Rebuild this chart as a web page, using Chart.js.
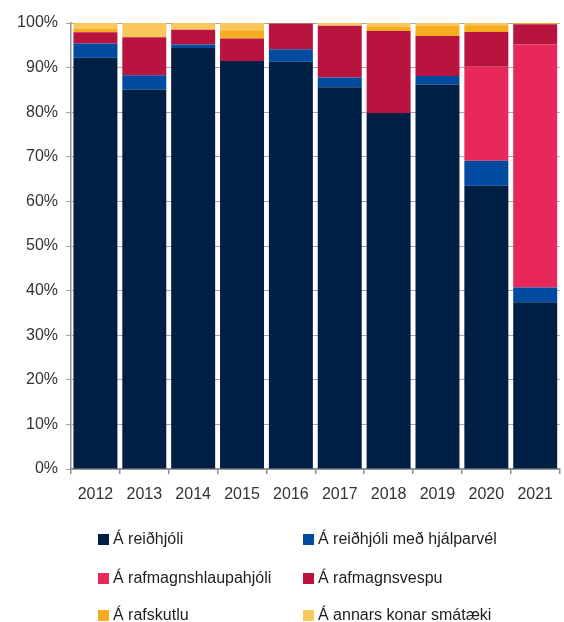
<!DOCTYPE html>
<html>
<head>
<meta charset="utf-8">
<script src="https://cdn.jsdelivr.net/npm/chart.js@4/dist/chart.umd.min.js"></script>
<style>
  body { margin: 0; background: #fff; }
  #wrap { position: relative; width: 564px; height: 622px; }
  #legend { position: absolute; left: 0; top: 0; width: 564px; height: 622px; pointer-events: none; }
  .item { position: absolute; display: flex; align-items: center; height: 20px;
          font: 16px "Liberation Sans", Arial, sans-serif; color: #1e1e1e; white-space: nowrap; }
  .item span.box { width: 11px; height: 11px; margin-right: 4px; display: inline-block; }
</style>
</head>
<body>
<div id="wrap">
  <canvas id="c" width="564" height="505"></canvas>
  <div id="legend"></div>
</div>
<script>
const years = ["2012", "2013", "2014", "2015", "2016", "2017", "2018", "2019", "2020", "2021"];

const labels = [
  "Á reiðhjóli",
  "Á reiðhjóli með hjálparvél",
  "Á rafmagnshlaupahjóli",
  "Á rafmagnsvespu",
  "Á rafskutlu",
  "Á annars konar smátæki"
];

const colors = ["#001f45", "#004a9f", "#e8285a", "#b91440", "#f5ac1e", "#f9c75c"];

// shares in percent, stacked bottom to top
const reidhjol   = [92.2, 85.1, 94.4, 91.5, 91.3, 85.6, 79.8, 86.2, 63.5, 37.4];
const hjalparvel = [3.2, 3.2, 0.8, 0, 2.8, 2.2, 0, 1.9, 5.6, 3.3];
const hlaupahjol = [0, 0, 0, 0, 0, 0, 0, 0, 21.1, 54.5];
const vespa      = [2.5, 8.5, 3.3, 5.0, 5.8, 11.6, 18.4, 9.0, 7.8, 4.5];
const rafskutla  = [0.8, 0, 0, 1.9, 0, 0, 0.9, 2.2, 1.5, 0.3];
const annad      = [1.3, 3.2, 1.5, 1.6, 0.1, 0.6, 0.9, 0.7, 0.5, 0];

const series = [reidhjol, hjalparvel, hlaupahjol, vespa, rafskutla, annad];

const axisGray = "#8f8f8f";
const font = { family: "'Liberation Sans', Arial, sans-serif", size: 16 };

const chart = new Chart(document.getElementById("c"), {
  type: "bar",
  data: {
    labels: years,
    datasets: series.map((d, i) => ({
      label: labels[i],
      data: d,
      backgroundColor: colors[i],
      borderWidth: 0,
      barPercentage: 0.9,
      categoryPercentage: 1.0,
    })),
  },
  options: {
    responsive: false,
    animation: false,
    layout: { padding: { top: 23, right: 0, left: 0, bottom: 0 } },
    plugins: { legend: { display: false }, tooltip: { enabled: false } },
    scales: {
      x: {
        stacked: true,
        afterFit: (s) => { s.height = 36; },
        grid: { drawOnChartArea: false, drawTicks: true, tickLength: 5, color: axisGray, lineWidth: 1.5 },
        border: { color: axisGray, width: 1.5 },
        ticks: { color: "#333", font, padding: 11 },
      },
      y: {
        stacked: true,
        min: 0,
        max: 100,
        afterFit: (s) => { s.width = 71; },
        grid: { color: "#a6a6a6", lineWidth: 1, tickLength: 5 },
        border: { color: axisGray, width: 1.5 },
        ticks: { stepSize: 10, color: "#333", font, padding: 8, callback: (v) => v + "%" },
      },
    },
  },
});

// two-column legend under the plot
const legendEl = document.getElementById("legend");
const colX = [98, 303];
const rowY = [539, 578, 615];
chart.data.datasets.forEach((ds, i) => {
  const item = document.createElement("div");
  item.className = "item";
  item.style.left = colX[i % 2] + "px";
  item.style.top = (rowY[Math.floor(i / 2)] - 10) + "px";
  item.innerHTML = `<span class="box" style="background:${ds.backgroundColor}"></span>${ds.label}`;
  legendEl.appendChild(item);
});
</script>
</body>
</html>
